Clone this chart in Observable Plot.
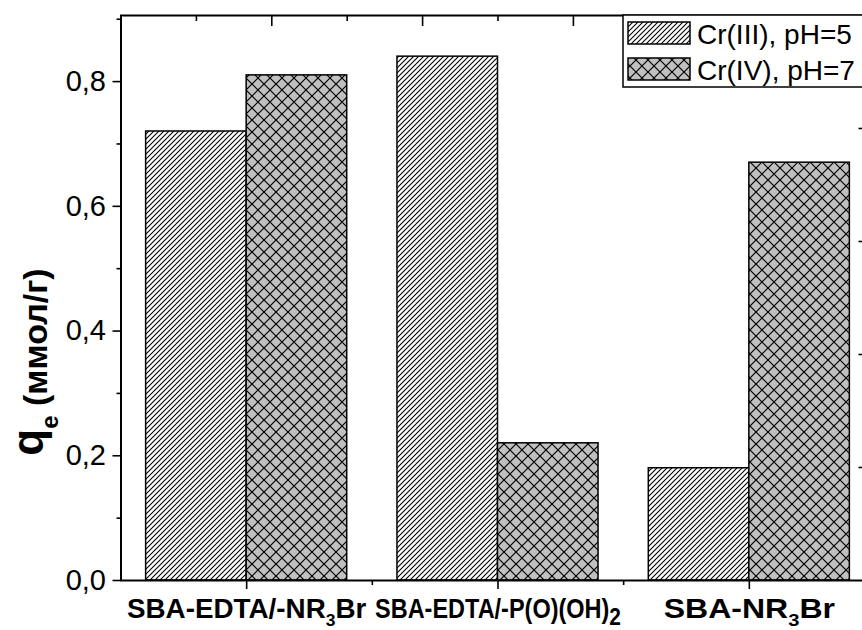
<!DOCTYPE html>
<html><head><meta charset="utf-8">
<script src="https://cdn.jsdelivr.net/npm/d3@7"></script>
<script src="https://cdn.jsdelivr.net/npm/@observablehq/plot@0.6"></script>
<style>
html,body{margin:0;padding:0;background:#fff;overflow:hidden;}
#chart{position:relative;width:862px;height:630px;overflow:hidden;}
</style></head><body><div id="chart"></div>
<script>
const categories = ["SBA-EDTA/-NR₃Br", "SBA-EDTA/-P(O)(OH)₂", "SBA-NR₃Br"];
const seriesNames = ["Cr(III), pH=5", "Cr(IV), pH=7"];
const crIII = [0.72, 0.84, 0.18];
const crIV = [0.81, 0.22, 0.67];
const yTicks = [0, 0.2, 0.4, 0.6, 0.8];
const yTickLabels = ["0,0", "0,2", "0,4", "0,6", "0,8"];
const yMinorTicks = [0.1, 0.3, 0.5, 0.7, 0.9];
const yMax = 0.906;
const yTitle = ["q", "e", " (ммол/г)"];

// label widths (style) to mimic the face of the original
const labelWidths = [240, 246, 172];

const rows = [];
categories.forEach((c, i) => {
  rows.push({i, cat: c, series: seriesNames[0], v: crIII[i]});
  rows.push({i, cat: c, series: seriesNames[1], v: crIV[i]});
});
const barW = 0.4;
const font = "'Liberation Sans', Arial, Helvetica, sans-serif";
const xMajor = categories.map((c, i) => i);
const xMinor = [0.5, 1.5];
const topMajor = d3.range(0, 6).map(k => -0.5 + 0.6 * k);
const topMinor = d3.range(0, 5).map(k => -0.2 + 0.6 * k);
const rightTicks = d3.range(1, 5).map(k => yMax * k / 5);
const empty = () => "";

const plot = Plot.plot({
  width: 862, height: 630,
  marginLeft: 120.5, marginRight: -12.5, marginTop: 15, marginBottom: 50,
  style: {fontFamily: font, background: "white", color: "black", overflow: "hidden"},
  x: {type: "linear", domain: [-0.5, 2.5]},
  y: {domain: [0, yMax]},
  marks: [
    Plot.rectY(rows.filter(d => d.series === seriesNames[0]), {x1: d => d.i - barW, x2: d => d.i, y1: 0, y2: "v", fill: "url(#hatch)", stroke: "black", strokeWidth: 1.5}),
    Plot.rectY(rows.filter(d => d.series === seriesNames[1]), {x1: d => d.i, x2: d => d.i + barW, y1: 0, y2: "v", fill: "url(#cross)", stroke: "black", strokeWidth: 1.5}),
    Plot.axisY({ticks: yTicks, tickFormat: d => yTickLabels[yTicks.indexOf(d)], tickSize: 8, tickPadding: 7, fontSize: 29, label: null, strokeWidth: 1.6}),
    Plot.axisY({ticks: yMinorTicks, tickFormat: empty, tickSize: 4, label: null, strokeWidth: 1.6}),
    Plot.axisX({anchor: "bottom", ticks: xMajor, tickFormat: i => categories[i], tickSize: 9, tickPadding: 9, fontSize: 27, fontWeight: "bold", label: null, strokeWidth: 1.6}),
    Plot.axisX({anchor: "bottom", ticks: xMinor, tickFormat: empty, tickSize: 5, label: null, strokeWidth: 1.6}),
    Plot.axisX({anchor: "top", ticks: topMajor, tickFormat: empty, tickSize: 10, dy: 10, label: null, strokeWidth: 1.6}),
    Plot.axisX({anchor: "top", ticks: topMinor, tickFormat: empty, tickSize: 5, dy: 5, label: null, strokeWidth: 1.6}),
    Plot.axisY({anchor: "right", ticks: rightTicks, tickFormat: empty, tickSize: 17, dx: -17, label: null, strokeWidth: 1.6}),
    Plot.frame({stroke: "black", strokeWidth: 2})
  ]
});
document.getElementById("chart").appendChild(plot);

const svg = d3.select(plot);
const defs = svg.insert("defs", ":first-child");
const h = defs.append("pattern").attr("id", "hatch").attr("patternUnits", "userSpaceOnUse").attr("width", 5).attr("height", 5);
h.append("rect").attr("width", 5).attr("height", 5).attr("fill", "white");
h.append("path").attr("d", "M-1,6 L6,-1 M-1,1 L1,-1 M4,6 L6,4").attr("stroke", "black").attr("stroke-width", 1.1);
const c = defs.append("pattern").attr("id", "cross").attr("patternUnits", "userSpaceOnUse").attr("width", 12).attr("height", 12);
c.append("rect").attr("width", 12).attr("height", 12).attr("fill", "#c0c0c0");
c.append("path").attr("d", "M0,0 L12,12 M12,0 L0,12").attr("stroke", "black").attr("stroke-width", 1.2);

// subscripts in category tick labels, then scale horizontally to the original's width
svg.selectAll("text").each(function() {
  const t = this.textContent;
  const idx = categories.indexOf(t);
  if (idx < 0) return;
  const el = d3.select(this);
  el.text(null);
  const parts = t.split(/([₂₃])/);
  let shifted = 0;
  parts.forEach(p => {
    if (!p) return;
    if (p === "₃" || p === "₂") {
      const big = p === "₂";
      const dy = big ? 7 : 8;
      el.append("tspan").attr("dy", dy).attr("font-size", big ? 24 : 17).text(p === "₃" ? "3" : "2");
      shifted = dy;
    } else {
      const ts = el.append("tspan").text(p);
      if (shifted) { ts.attr("dy", -shifted); shifted = 0; }
    }
  });
  const w = this.getBBox().width;
  if (w > 0) {
    const tr = el.attr("transform") || "";
    el.attr("transform", tr + ` scale(${labelWidths[idx] / w},1)`);
  }
});

// y-axis title
const yt = svg.append("text").attr("transform", "translate(43,362) rotate(-90)")
  .attr("text-anchor", "middle").attr("font-weight", "bold").attr("fill", "black").attr("font-family", font);
yt.append("tspan").attr("font-size", 44).text(yTitle[0]);
yt.append("tspan").attr("font-size", 24).attr("dy", 15).text(yTitle[1]);
yt.append("tspan").attr("font-size", 34).attr("dy", -11).text(yTitle[2]);

// legend
const lg = svg.append("g").attr("font-family", font).attr("text-anchor", "start");
lg.append("rect").attr("x", 623).attr("y", 15).attr("width", 260).attr("height", 72).attr("fill", "white").attr("stroke", "black").attr("stroke-width", 1.5);
[["url(#hatch)", 22], ["url(#cross)", 58]].forEach(([f, y], k) => {
  lg.append("rect").attr("x", 628).attr("y", y).attr("width", 62).attr("height", 22).attr("fill", f).attr("stroke", "black").attr("stroke-width", 1.5);
  lg.append("text").attr("x", 697).attr("y", y + 21.5).attr("font-size", 28).attr("fill", "black").attr("text-anchor", "start").text(seriesNames[k]);
});
</script></body></html>
